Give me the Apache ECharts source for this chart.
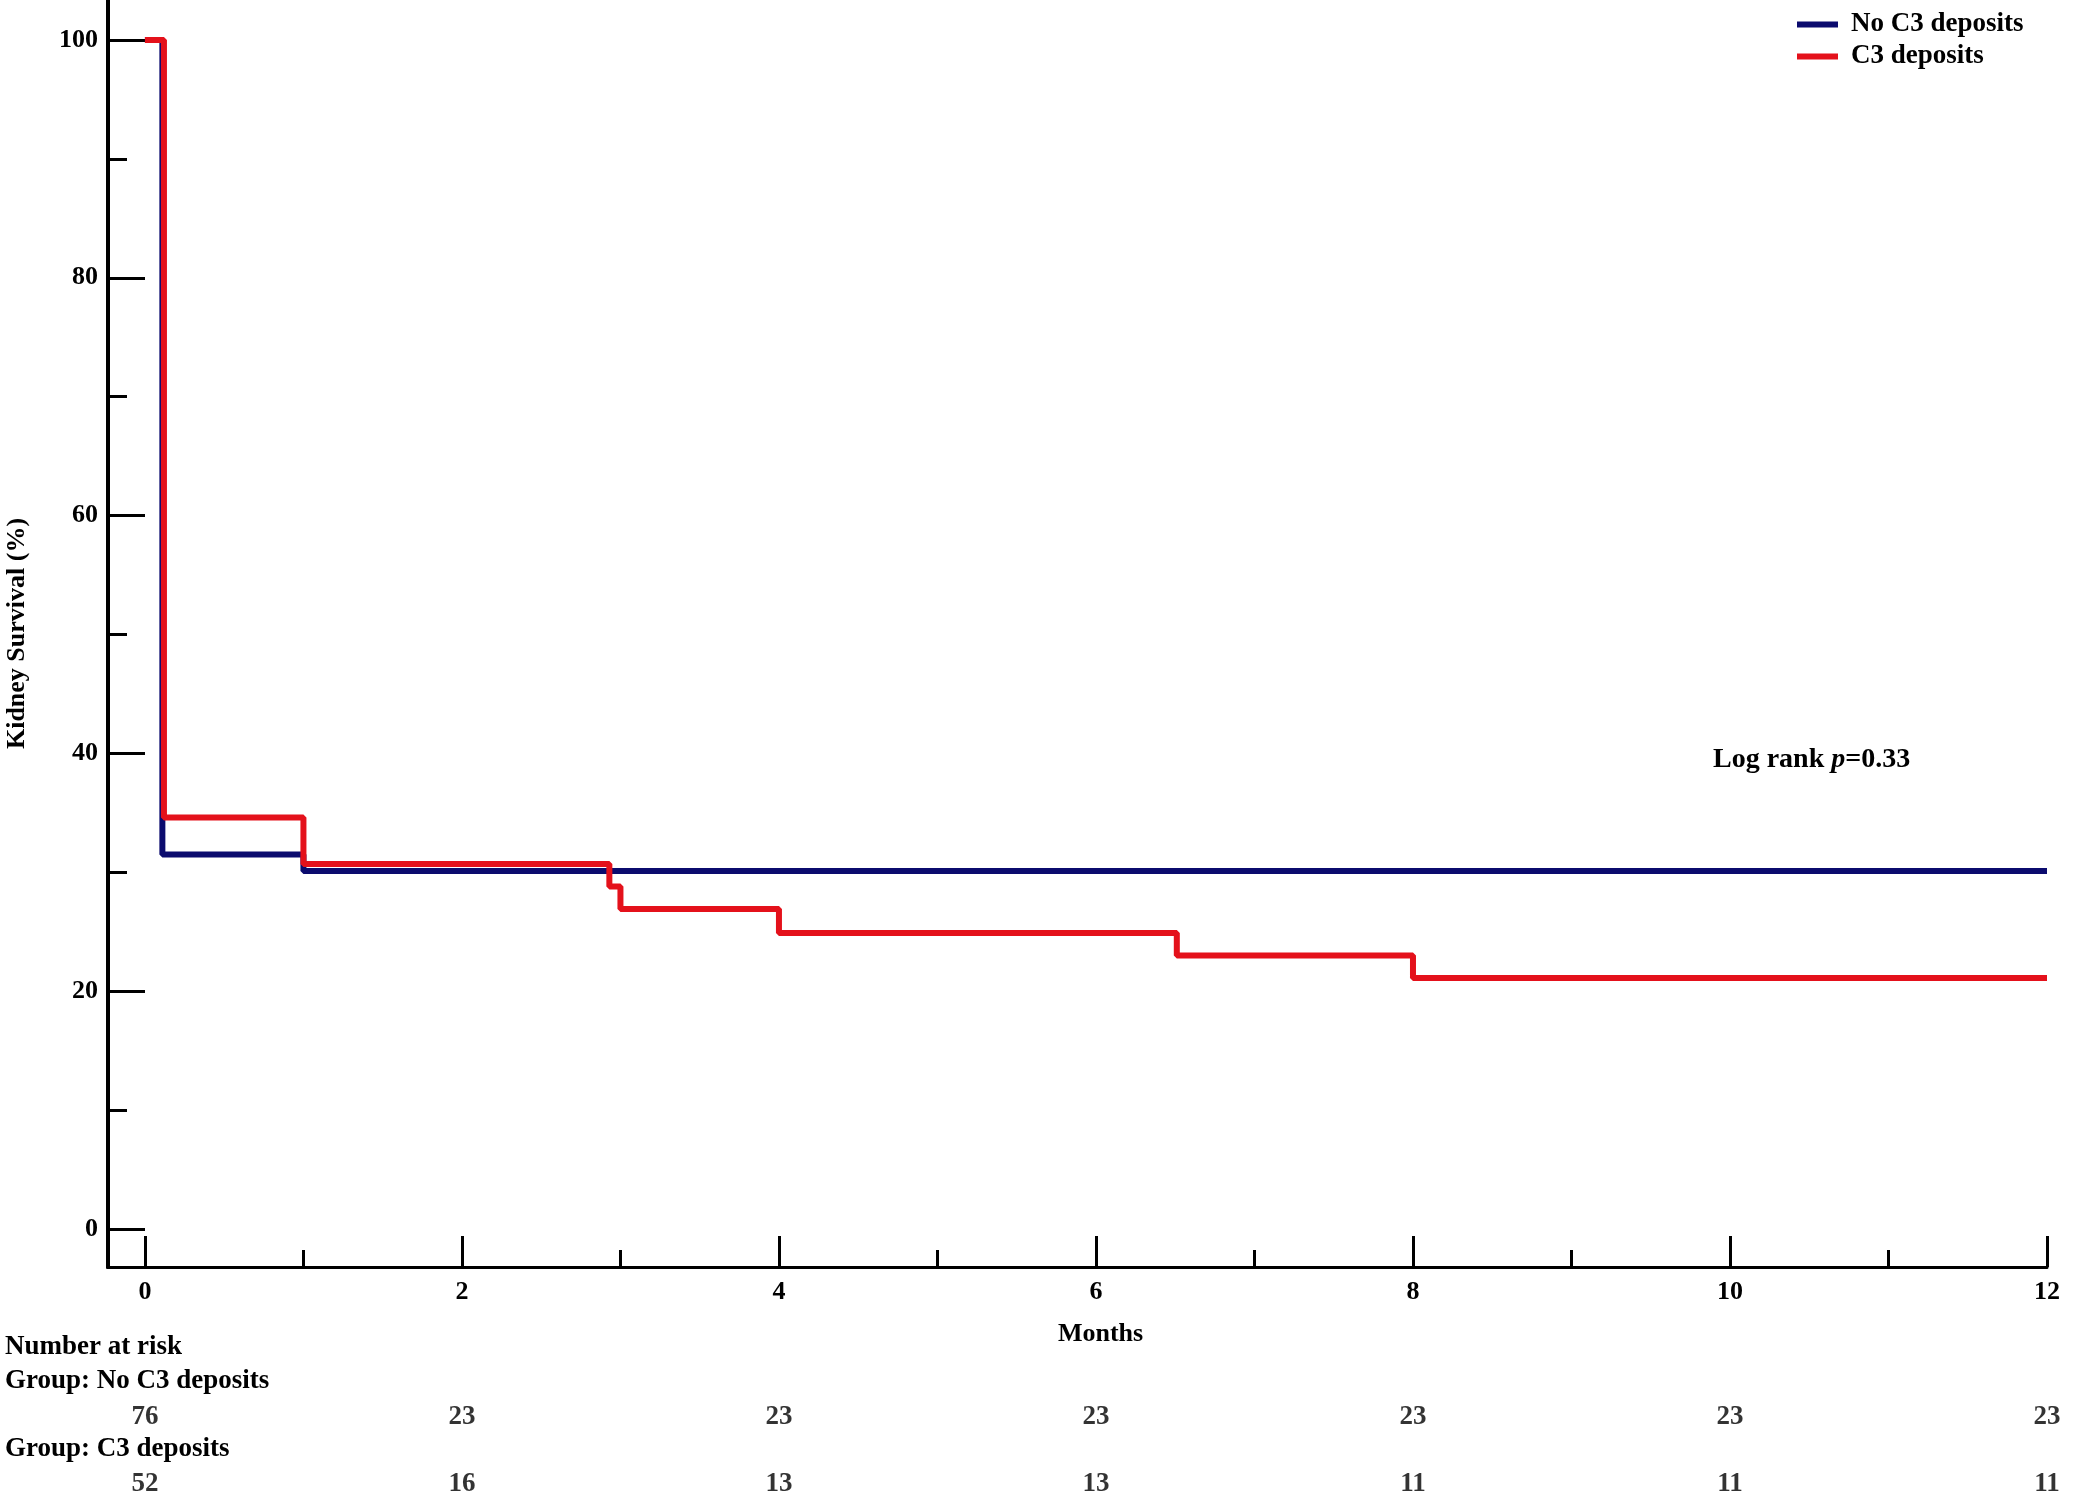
<!DOCTYPE html>
<html>
<head>
<meta charset="utf-8">
<script src="https://cdn.jsdelivr.net/npm/echarts@6/dist/echarts.min.js"></script>
<style>
  html, body { margin: 0; padding: 0; background: #fff; }
  #demo { width: 2090px; height: 1500px; }
</style>
</head>
<body>
<div id="demo"></div>
<script>
// Kaplan-Meier steps, [month, survival %]
var noC3Steps = [[0, 100], [0.11, 31.5], [1.0, 30.1], [12, 30.1]];
var c3Steps = [[0, 100], [0.12, 34.6], [1.0, 30.7], [2.93, 28.8], [3.0, 26.9],
  [4.0, 24.9], [6.51, 23.0], [8.0, 21.1], [12, 21.1]];

// axis ticks
var xMajorTicks = [0, 2, 4, 6, 8, 10, 12];
var xMinorTicks = [1, 3, 5, 7, 9, 11];
var yMajorTicks = [0, 20, 40, 60, 80, 100];
var yMinorTicks = [10, 30, 50, 70, 90];

// number at risk table
var riskTimes = [0, 2, 4, 6, 8, 10, 12];
var riskNoC3 = [76, 23, 23, 23, 23, 23, 23];
var riskC3 = [52, 16, 13, 13, 11, 11, 11];

var seriesNames = ['No C3 deposits', 'C3 deposits'];

var FONT = "'Liberation Serif', 'Times New Roman', serif";
var BLUE = '#0b0b6e';
var RED = '#e4111b';

// axes run a little past 0 so the two lines meet at the corner
var X_MIN = -0.233, X_MAX = 12;
var Y_MIN = -3.2, Y_MAX = 103.36;

var riskData = [];
riskTimes.forEach(function (t, i) {
  riskData.push([t, 1, riskNoC3[i]]);
  riskData.push([t, 0, riskC3[i]]);
});

function lineOn(w) {
  return { show: true, onZero: false, lineStyle: { color: '#000', width: w } };
}
function lineOff() {
  return { show: false, onZero: false };
}
function ticks(values, len) {
  return { show: true, inside: true, length: len, customValues: values, lineStyle: { color: '#000', width: 3 } };
}

var myChart = echarts.init(document.getElementById('demo'));

myChart.setOption({
  backgroundColor: '#fff',
  animation: false,
  textStyle: { fontFamily: FONT },
  legend: {
    data: seriesNames,
    orient: 'vertical',
    left: 1792,
    top: 6,
    icon: 'rect',
    itemWidth: 41,
    itemHeight: 6,
    itemGap: 5,
    textStyle: { fontFamily: FONT, fontWeight: 'bold', fontSize: 27, color: '#000', padding: [0, 0, 0, 8] }
  },
  grid: [
    { left: 108, right: 43, top: 0, bottom: 233, outerBoundsMode: 'none' },
    { left: 108, right: 43, top: 1417, bottom: 16, outerBoundsMode: 'none' }
  ],
  xAxis: [
    {
      gridIndex: 0, type: 'value', position: 'bottom', min: X_MIN, max: X_MAX,
      axisLine: lineOn(3),
      axisTick: ticks(xMajorTicks, 31),
      axisLabel: { customValues: xMajorTicks, margin: 12, fontFamily: FONT, fontWeight: 'bold', fontSize: 26, color: '#000' },
      splitLine: { show: false },
      name: 'Months', nameLocation: 'middle', nameGap: 54,
      nameTextStyle: { fontFamily: FONT, fontWeight: 'bold', fontSize: 26, color: '#000', padding: [0, 0, 0, 46] }
    },
    {
      gridIndex: 0, type: 'value', position: 'bottom', min: X_MIN, max: X_MAX,
      axisLine: lineOff(),
      axisTick: ticks(xMinorTicks, 17),
      axisLabel: { show: false },
      splitLine: { show: false }
    },
    { gridIndex: 1, type: 'value', min: X_MIN, max: X_MAX, show: false }
  ],
  yAxis: [
    {
      gridIndex: 0, type: 'value', position: 'left', min: Y_MIN, max: Y_MAX,
      axisLine: lineOn(4),
      axisTick: ticks(yMajorTicks, 37),
      axisLabel: { customValues: yMajorTicks, margin: 10, fontFamily: FONT, fontWeight: 'bold', fontSize: 26, color: '#000' },
      splitLine: { show: false },
      name: 'Kidney Survival (%)', nameLocation: 'middle', nameGap: 78, nameRotate: 90,
      nameTextStyle: { fontFamily: FONT, fontWeight: 'bold', fontSize: 26, color: '#000' }
    },
    {
      gridIndex: 0, type: 'value', position: 'left', min: Y_MIN, max: Y_MAX,
      axisLine: lineOff(),
      axisTick: ticks(yMinorTicks, 19),
      axisLabel: { show: false },
      splitLine: { show: false }
    },
    { gridIndex: 1, type: 'value', min: 0, max: 1, show: false }
  ],
  series: [
    {
      name: seriesNames[0], type: 'line', step: 'end', xAxisIndex: 0, yAxisIndex: 0,
      data: noC3Steps, showSymbol: false, z: 2,
      itemStyle: { color: BLUE },
      lineStyle: { color: BLUE, width: 6 }
    },
    {
      name: seriesNames[1], type: 'line', step: 'end', xAxisIndex: 0, yAxisIndex: 0,
      data: c3Steps, showSymbol: false, z: 3,
      itemStyle: { color: RED },
      lineStyle: { color: RED, width: 6 }
    },
    {
      type: 'scatter', xAxisIndex: 2, yAxisIndex: 2, data: riskData,
      symbolSize: 1, itemStyle: { color: 'transparent' }, silent: true,
      label: {
        show: true, position: 'inside',
        formatter: function (p) { return p.value[2]; },
        fontFamily: FONT, fontWeight: 'bold', fontSize: 27, color: '#000'
      }
    }
  ]
});

// vertical axis line, placed through the chart's own scale
var pBottom = myChart.convertToPixel({ gridIndex: 0 }, [X_MIN, Y_MIN]);
var pTop = myChart.convertToPixel({ gridIndex: 0 }, [X_MIN, Y_MAX]);

myChart.setOption({
  graphic: [
    {
      type: 'line', z: 50,
      shape: { x1: pBottom[0], y1: pBottom[1] + 1.5, x2: pTop[0], y2: pTop[1] },
      style: { stroke: '#000', lineWidth: 4 }
    },
    {
      type: 'text', left: 1713, top: 746,
      style: {
        text: '{a|Log rank }{b|p}{a|=0.33}',
        rich: {
          a: { fontFamily: FONT, fontWeight: 'bold', fontSize: 28, fill: '#000' },
          b: { fontFamily: FONT, fontWeight: 'bold', fontStyle: 'italic', fontSize: 28, fill: '#000' }
        }
      }
    },
    { type: 'text', left: 5, top: 1334, style: { text: 'Number at risk', font: 'bold 27px ' + FONT, fill: '#000' } },
    { type: 'text', left: 5, top: 1368, style: { text: 'Group: No C3 deposits', font: 'bold 27px ' + FONT, fill: '#000' } },
    { type: 'text', left: 5, top: 1436, style: { text: 'Group: C3 deposits', font: 'bold 27px ' + FONT, fill: '#000' } }
  ]
});
</script>
</body>
</html>
